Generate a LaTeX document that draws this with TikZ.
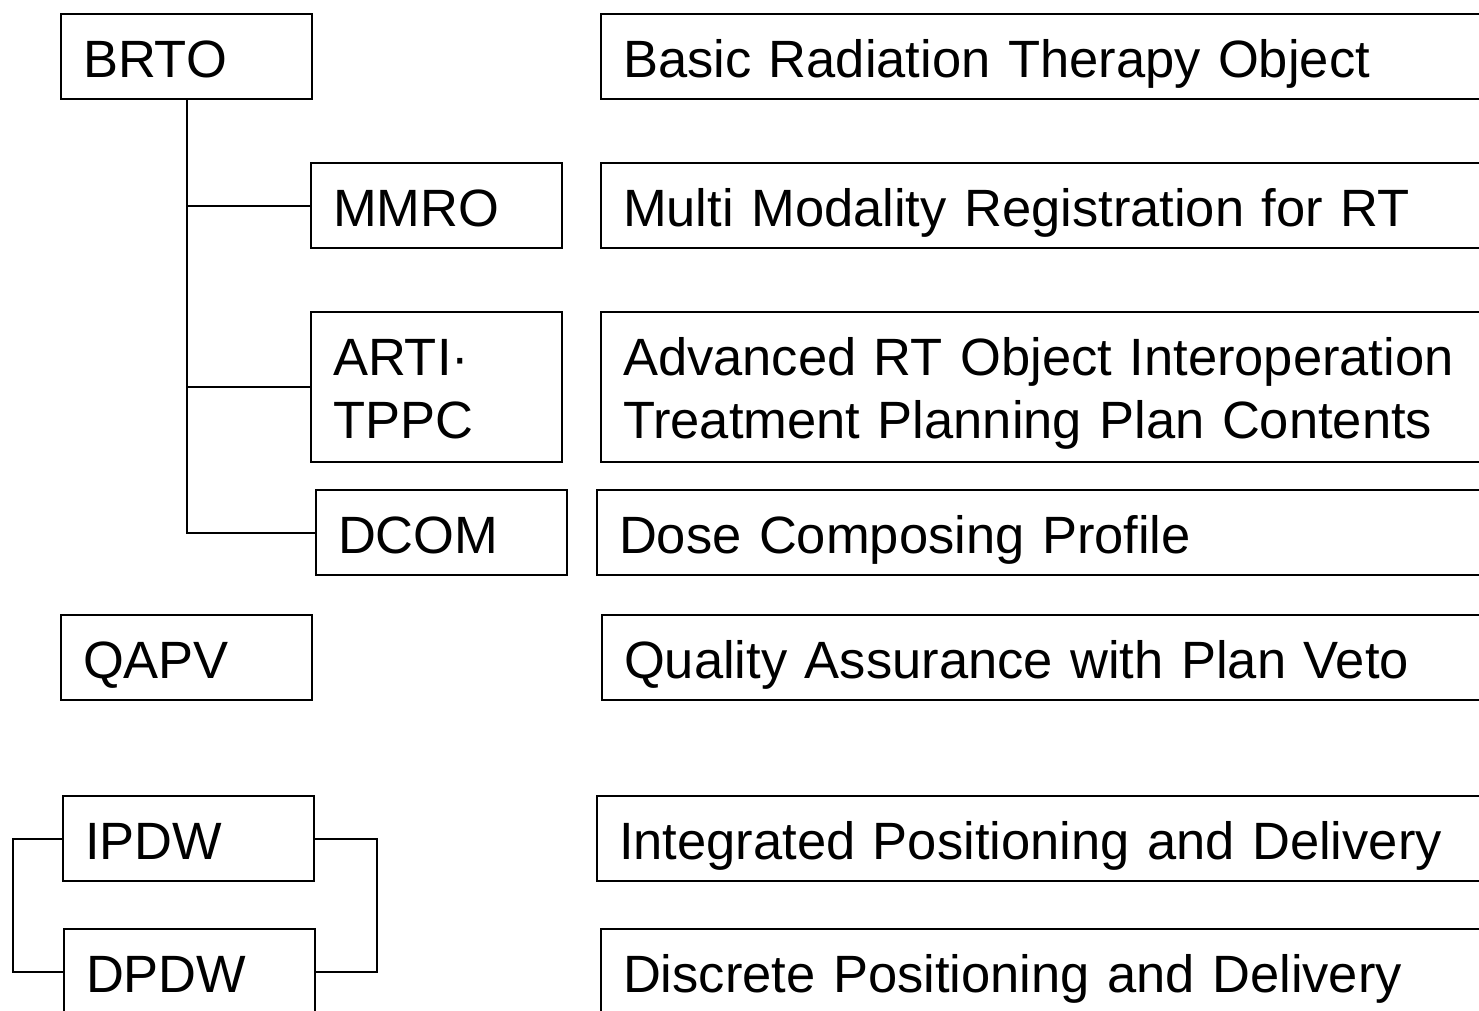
\documentclass[tikz,border=0pt]{standalone}
\usepackage{fontspec}
\setmainfont{Liberation Sans}[WordSpace=0.85]
\begin{document}
\begin{tikzpicture}[x=1pt,y=-1pt,
  box/.style={draw, line width=2pt, anchor=north west, minimum height=85pt,
    inner xsep=22pt, inner ysep=0pt, text height=42pt, text depth=0pt,
    font=\fontsize{52.5}{63}\selectfont, align=left},
  twoline/.style={minimum height=150pt, text height=40pt, text depth=63pt},
  abbr/.style={box, text width=207pt},
  desc/.style={box, text width=900pt},
  link/.style={line width=2pt}]
\useasboundingbox (0,0) rectangle (1479,1010);
\clip (0,0) rectangle (1479,1010);

% profile abbreviations
\node[abbr] (brto) at (60,13) {BRTO};
\node[abbr] (mmro) at (310,162) {MMRO};
\node[abbr, twoline] (arti) at (310,311) {ARTI·\\TPPC};
\node[abbr] (dcom) at (315,489) {DCOM};
\node[abbr] (qapv) at (60,614) {QAPV};
\node[abbr] (ipdw) at (62,795) {IPDW};
\node[abbr] (dpdw) at (63,928) {DPDW};

% full profile names
\node[desc] (dbrto) at (600,13) {Basic Radiation Therapy Object};
\node[desc] (dmmro) at (600,162) {Multi Modality Registration for RT};
\node[desc, twoline] (darti) at (600,311)
  {Advanced RT Object Interoperation\\Treatment Planning Plan Contents};
\node[desc] (ddcom) at (596,489) {Dose Composing Profile};
\node[desc] (dqapv) at (601,614) {Quality Assurance with Plan Veto};
\node[desc] (dipdw) at (596,795) {Integrated Positioning and Delivery};
\node[desc] (ddpdw) at (600,928) {Discrete Positioning and Delivery};

% BRTO tree
\draw[link] (brto.south) |- (mmro.west);
\draw[link] (brto.south) |- (arti.west);
\draw[link] (brto.south) |- (dcom.west);

% IPDW / DPDW brackets
\draw[link] (ipdw.west) -- ++(-49,0) |- (dpdw.west);
\draw[link] (ipdw.east) -- ++(62,0) |- (dpdw.east);
\end{tikzpicture}
\end{document}
